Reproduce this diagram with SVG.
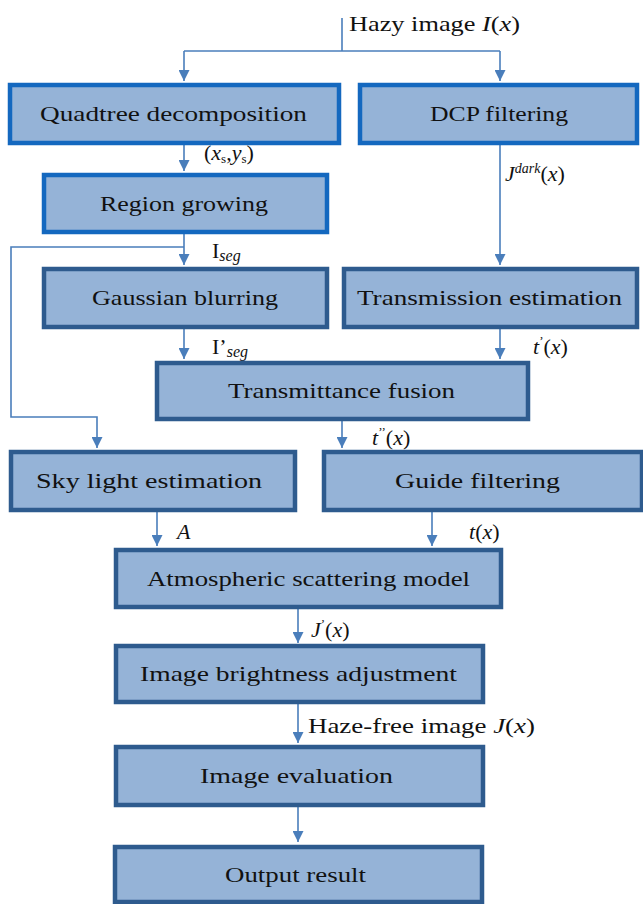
<svg xmlns="http://www.w3.org/2000/svg" width="643" height="904" viewBox="0 0 643 904" font-family="'Liberation Serif', 'DejaVu Serif', serif">
<style>
.box{fill:#95b3d7;stroke:#2e5b8e;stroke-width:4.5}
.box.hi{stroke:#1468bf}
.lbl{font-family:'Liberation Serif','DejaVu Serif',serif;font-size:22px;fill:#111;text-anchor:start}
.t{font-family:'Liberation Serif','DejaVu Serif',serif;font-size:22px;fill:#111}
.i{font-style:italic}
.c{fill:none;stroke:#4a7ebb;stroke-width:1.6}
</style>
<defs>
<marker id="ah" viewBox="0 0 10 10" refX="10" refY="5" markerWidth="11" markerHeight="11" markerUnits="userSpaceOnUse" orient="auto">
<path d="M0,0 L10,5 L0,10 Z" fill="#4a7ebb"/>
</marker>
</defs>
<rect width="643" height="904" fill="#fff"/>
<g id="connectors">
<polyline class="c" points="342,18 342,51"/>
<polyline class="c" points="184,51 500,51"/>
<polyline class="c" points="184,51 184,81" marker-end="url(#ah)"/>
<polyline class="c" points="500,51 500,81" marker-end="url(#ah)"/>
<polyline class="c" points="184,145 184,171" marker-end="url(#ah)"/>
<polyline class="c" points="500,145 500,265" marker-end="url(#ah)"/>
<polyline class="c" points="184,234 184,265" marker-end="url(#ah)"/>
<polyline class="c" points="184,247 11,247 11,417 97,417 97,448" marker-end="url(#ah)"/>
<polyline class="c" points="184,328 184,359" marker-end="url(#ah)"/>
<polyline class="c" points="500,328 500,359" marker-end="url(#ah)"/>
<polyline class="c" points="342,421 342,448" marker-end="url(#ah)"/>
<polyline class="c" points="157,512 157,546" marker-end="url(#ah)"/>
<polyline class="c" points="432,512 432,546" marker-end="url(#ah)"/>
<polyline class="c" points="298,609 298,643" marker-end="url(#ah)"/>
<polyline class="c" points="298,703 298,743" marker-end="url(#ah)"/>
<polyline class="c" points="298,806 298,842" marker-end="url(#ah)"/>
</g>
<g id="labels">
<text class="t" x="349" y="31" textLength="171" lengthAdjust="spacingAndGlyphs">Hazy image <tspan class="i">I</tspan>(<tspan class="i">x</tspan>)</text>
<text class="t" x="204" y="160" font-size="19">(<tspan class="i">x</tspan><tspan font-size="13" dy="3">s</tspan><tspan dy="-3">,</tspan><tspan class="i">y</tspan><tspan font-size="13" dy="3">s</tspan><tspan dy="-3">)</tspan></text>
<text class="t" x="505" y="181"><tspan class="i">J</tspan><tspan class="i" font-size="14" dy="-8">dark</tspan><tspan dy="8">(</tspan><tspan class="i">x</tspan>)</text>
<text class="t" x="212" y="258">I<tspan class="i" font-size="16" dy="3">seg</tspan></text>
<text class="t" x="212" y="354">I’<tspan class="i" font-size="16" dy="3">seg</tspan></text>
<text class="t" x="533" y="354"><tspan class="i">t</tspan><tspan font-size="13" dy="-9">’</tspan><tspan dy="9">(</tspan><tspan class="i">x</tspan>)</text>
<text class="t" x="372" y="445"><tspan class="i">t</tspan><tspan font-size="13" dy="-9">’’</tspan><tspan dy="9">(</tspan><tspan class="i">x</tspan>)</text>
<text class="t i" x="177" y="539">A</text>
<text class="t" x="469" y="539"><tspan class="i">t</tspan>(<tspan class="i">x</tspan>)</text>
<text class="t" x="311" y="637"><tspan class="i">J</tspan><tspan font-size="13" dy="-9">’</tspan><tspan dy="9">(</tspan><tspan class="i">x</tspan>)</text>
<text class="t" x="308" y="733" textLength="227" lengthAdjust="spacingAndGlyphs">Haze-free image <tspan class="i">J</tspan>(<tspan class="i">x</tspan>)</text>
</g>
<g id="quadtree"><rect class="box hi" x="10" y="85" width="329" height="58"/><text class="lbl" x="40" y="121" textLength="267" lengthAdjust="spacingAndGlyphs">Quadtree decomposition</text></g>
<g id="dcp"><rect class="box hi" x="360" y="85" width="277" height="58"/><text class="lbl" x="430" y="121" textLength="138" lengthAdjust="spacingAndGlyphs">DCP filtering</text></g>
<g id="region"><rect class="box hi" x="44" y="175" width="283" height="57"/><text class="lbl" x="100" y="211" textLength="168" lengthAdjust="spacingAndGlyphs">Region growing</text></g>
<g id="gaussian"><rect class="box" x="44" y="269" width="283" height="58"/><text class="lbl" x="92" y="305" textLength="186" lengthAdjust="spacingAndGlyphs">Gaussian blurring</text></g>
<g id="transmission"><rect class="box" x="344" y="269" width="293" height="58"/><text class="lbl" x="357" y="305" textLength="265" lengthAdjust="spacingAndGlyphs">Transmission estimation</text></g>
<g id="fusion"><rect class="box" x="157" y="363" width="371" height="56"/><text class="lbl" x="228" y="398" textLength="227" lengthAdjust="spacingAndGlyphs">Transmittance fusion</text></g>
<g id="skylight"><rect class="box" x="11" y="452" width="284" height="58"/><text class="lbl" x="36" y="488" textLength="226" lengthAdjust="spacingAndGlyphs">Sky light estimation</text></g>
<g id="guide"><rect class="box" x="324" y="452" width="318" height="58"/><text class="lbl" x="395" y="488" textLength="165" lengthAdjust="spacingAndGlyphs">Guide filtering</text></g>
<g id="atmospheric"><rect class="box" x="116" y="550" width="385" height="57"/><text class="lbl" x="147" y="586" textLength="323" lengthAdjust="spacingAndGlyphs">Atmospheric scattering model</text></g>
<g id="brightness"><rect class="box" x="116" y="646" width="367" height="56"/><text class="lbl" x="140" y="681" textLength="317" lengthAdjust="spacingAndGlyphs">Image brightness adjustment</text></g>
<g id="evaluation"><rect class="box" x="116" y="747" width="367" height="58"/><text class="lbl" x="200" y="783" textLength="193" lengthAdjust="spacingAndGlyphs">Image evaluation</text></g>
<g id="output"><rect class="box" x="115" y="847" width="367" height="55"/><text class="lbl" x="225" y="882" textLength="141" lengthAdjust="spacingAndGlyphs">Output result</text></g>
</svg>
